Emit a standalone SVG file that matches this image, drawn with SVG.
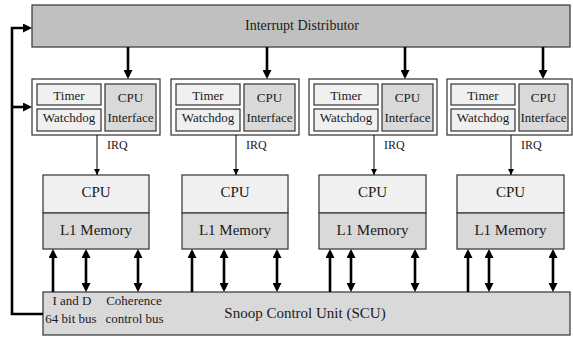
<svg xmlns="http://www.w3.org/2000/svg" width="573" height="338" viewBox="0 0 573 338">
  <defs>
    <marker id="head" markerUnits="userSpaceOnUse" markerWidth="10" markerHeight="9" refX="6" refY="4.5" orient="auto-start-reverse">
      <path d="M0,0 L9,4.5 L0,9 z" fill="#000"/>
    </marker>
    <marker id="small" markerUnits="userSpaceOnUse" markerWidth="7" markerHeight="6" refX="6" refY="3" orient="auto">
      <path d="M0,0 L6,3 L0,6 z" fill="#000"/>
    </marker>
  </defs>
  <style>
    .box { stroke: #404040; stroke-width: 1.3; }
    .dist { fill: #c0c0c0; }
    .outer { fill: #ffffff; }
    .light { fill: #f0f0f0; }
    .mid { fill: #d9d9d9; }
    text { font-family: "Liberation Serif", "Times New Roman", serif; fill: #1a1a1a; }
    .t13 { font-size: 13px; text-anchor: middle; }
    .t15 { font-size: 15px; text-anchor: middle; }
    .irq { font-size: 12px; }
    .bus { stroke: #000; stroke-width: 2.6; fill: none; }
    .thin { stroke: #000; stroke-width: 1; fill: none; }
  </style>

  <!-- Interrupt distributor -->
  <g id="distributor">
    <rect class="box dist" x="32" y="5" width="538" height="42"/>
    <text class="t15" x="302" y="30" style="font-size:14px">Interrupt Distributor</text>
  </g>

  <!-- Per-CPU interface blocks -->
  <g id="intf1">
    <rect class="box outer" x="32" y="79" width="128" height="56"/>
    <rect class="box light" x="37" y="84" width="64" height="21"/>
    <rect class="box light" x="37" y="109" width="64" height="22"/>
    <rect class="box mid" x="105" y="84" width="51" height="47"/>
    <text class="t13" x="69" y="100">Timer</text>
    <text class="t13" x="69" y="122">Watchdog</text>
    <text class="t13" x="130.5" y="101.5">CPU</text>
    <text class="t13" x="130.5" y="121.5">Interface</text>
    <text class="irq" x="107" y="149">IRQ</text>
  </g>
  <g id="intf2">
    <rect class="box outer" x="171" y="79" width="128" height="56"/>
    <rect class="box light" x="176" y="84" width="64" height="21"/>
    <rect class="box light" x="176" y="109" width="64" height="22"/>
    <rect class="box mid" x="244" y="84" width="51" height="47"/>
    <text class="t13" x="208" y="100">Timer</text>
    <text class="t13" x="208" y="122">Watchdog</text>
    <text class="t13" x="269.5" y="101.5">CPU</text>
    <text class="t13" x="269.5" y="121.5">Interface</text>
    <text class="irq" x="246" y="149">IRQ</text>
  </g>
  <g id="intf3">
    <rect class="box outer" x="309" y="79" width="128" height="56"/>
    <rect class="box light" x="314" y="84" width="64" height="21"/>
    <rect class="box light" x="314" y="109" width="64" height="22"/>
    <rect class="box mid" x="382" y="84" width="51" height="47"/>
    <text class="t13" x="346" y="100">Timer</text>
    <text class="t13" x="346" y="122">Watchdog</text>
    <text class="t13" x="407.5" y="101.5">CPU</text>
    <text class="t13" x="407.5" y="121.5">Interface</text>
    <text class="irq" x="384" y="149">IRQ</text>
  </g>
  <g id="intf4">
    <rect class="box outer" x="447" y="79" width="125" height="56"/>
    <rect class="box light" x="451" y="84" width="64" height="21"/>
    <rect class="box light" x="451" y="109" width="64" height="22"/>
    <rect class="box mid" x="519" y="84" width="49" height="47"/>
    <text class="t13" x="483" y="100">Timer</text>
    <text class="t13" x="483" y="122">Watchdog</text>
    <text class="t13" x="543.5" y="101.5">CPU</text>
    <text class="t13" x="543.5" y="121.5">Interface</text>
    <text class="irq" x="521" y="149">IRQ</text>
  </g>

  <!-- CPU cores with L1 memory -->
  <g id="cpu1">
    <rect class="box light" x="43" y="175" width="106" height="38"/>
    <rect class="box mid" x="43" y="213" width="106" height="36"/>
    <text class="t15" x="96" y="197">CPU</text>
    <text class="t15" x="96" y="235">L1 Memory</text>
  </g>
  <g id="cpu2">
    <rect class="box light" x="182" y="175" width="106" height="38"/>
    <rect class="box mid" x="182" y="213" width="106" height="36"/>
    <text class="t15" x="235" y="197">CPU</text>
    <text class="t15" x="235" y="235">L1 Memory</text>
  </g>
  <g id="cpu3">
    <rect class="box light" x="319" y="175" width="107" height="38"/>
    <rect class="box mid" x="319" y="213" width="107" height="36"/>
    <text class="t15" x="372.5" y="197">CPU</text>
    <text class="t15" x="372.5" y="235">L1 Memory</text>
  </g>
  <g id="cpu4">
    <rect class="box light" x="457" y="175" width="107" height="38"/>
    <rect class="box mid" x="457" y="213" width="107" height="36"/>
    <text class="t15" x="510.5" y="197">CPU</text>
    <text class="t15" x="510.5" y="235">L1 Memory</text>
  </g>

  <!-- Snoop control unit -->
  <g id="scu">
    <rect class="box mid" x="43" y="292" width="527" height="43"/>
    <text class="t13" x="72" y="305">I and D</text>
    <text class="t13" x="71" y="322.5">64 bit bus</text>
    <text class="t13" x="134" y="305">Coherence</text>
    <text class="t13" x="134.5" y="322.5">control bus</text>
    <text class="t15" x="305" y="318">Snoop Control Unit (SCU)</text>
  </g>

  <!-- Connectors -->
  <g id="connectors">
    <!-- loop back from SCU to distributor and interface blocks -->
    <path class="bus" d="M43,314 H12 V28 H29" marker-end="url(#head)"/>
    <path class="bus" d="M12,107 H29" marker-end="url(#head)"/>

    <!-- distributor to CPU interfaces -->
    <path class="bus" d="M128,47 V76" marker-end="url(#head)"/>
    <path class="bus" d="M267,47 V76" marker-end="url(#head)"/>
    <path class="bus" d="M405,47 V76" marker-end="url(#head)"/>
    <path class="bus" d="M543,47 V76" marker-end="url(#head)"/>

    <!-- IRQ lines -->
    <path class="thin" d="M97,135 V175" marker-end="url(#small)"/>
    <path class="thin" d="M236,135 V175" marker-end="url(#small)"/>
    <path class="thin" d="M374,135 V175" marker-end="url(#small)"/>
    <path class="thin" d="M511,135 V175" marker-end="url(#small)"/>

    <!-- instruction/data buses (one-way) -->
    <path class="bus" d="M53,292 V252" marker-end="url(#head)"/>
    <path class="bus" d="M192,292 V252" marker-end="url(#head)"/>
    <path class="bus" d="M330,292 V252" marker-end="url(#head)"/>
    <path class="bus" d="M468,292 V252" marker-end="url(#head)"/>

    <!-- two-way buses -->
    <path class="bus" d="M86,252 V289" marker-start="url(#head)" marker-end="url(#head)"/>
    <path class="bus" d="M138,252 V289" marker-start="url(#head)" marker-end="url(#head)"/>
    <path class="bus" d="M224,252 V289" marker-start="url(#head)" marker-end="url(#head)"/>
    <path class="bus" d="M277,252 V289" marker-start="url(#head)" marker-end="url(#head)"/>
    <path class="bus" d="M351,252 V289" marker-start="url(#head)" marker-end="url(#head)"/>
    <path class="bus" d="M415,252 V289" marker-start="url(#head)" marker-end="url(#head)"/>
    <path class="bus" d="M489,252 V289" marker-start="url(#head)" marker-end="url(#head)"/>
    <path class="bus" d="M553,252 V289" marker-start="url(#head)" marker-end="url(#head)"/>
  </g>
</svg>
